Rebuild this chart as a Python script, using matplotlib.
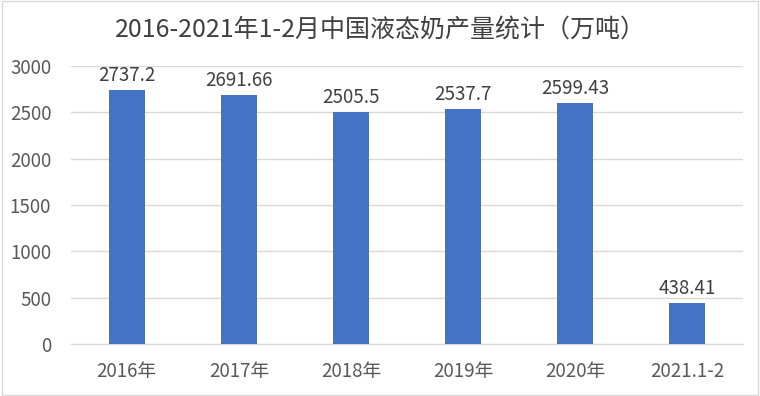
import matplotlib.pyplot as plt
from matplotlib.patches import Rectangle

plt.rcParams['font.family'] = ['Noto Sans CJK SC', 'DejaVu Sans']

# data
years = ['2016年', '2017年', '2018年', '2019年', '2020年', '2021.1-2']
output = [2737.2, 2691.66, 2505.5, 2537.7, 2599.43, 438.41]
labels = ['2737.2', '2691.66', '2505.5', '2537.7', '2599.43', '438.41']

fig = plt.figure(figsize=(7.6, 3.96), dpi=100)
ax = fig.add_axes([0.093, 0.131, 0.885, 0.702])

x = range(len(years))
ax.bar(x, output, width=0.32, color='#4472C4', zorder=3)
for i, v in enumerate(output):
    ax.text(i, v + 45, labels[i], ha='center', va='bottom', fontsize=13.5, color='#404040')

ax.set_xlim(-0.5, len(years) - 0.5)
ax.set_ylim(0, 3000)
ax.set_yticks(range(0, 3001, 500))
ax.set_xticks(list(x))
ax.set_xticklabels(years)
ax.tick_params(axis='both', length=0, labelsize=13.5, labelcolor='#595959')
ax.tick_params(axis='x', pad=12)
ax.tick_params(axis='y', pad=14)
ax.grid(axis='y', color='#D9D9D9', linewidth=1, zorder=0)
for s in ['top', 'right', 'left']:
    ax.spines[s].set_visible(False)
ax.spines['bottom'].set_color('#D9D9D9')

fig.text(0.5, 0.925, '2016-2021年1-2月中国液态奶产量统计（万吨）', ha='center', va='center',
         fontsize=18, color='#404040')

# outer border
fig.patches.append(Rectangle((0.002, 0.003), 0.996, 0.994, transform=fig.transFigure,
                             fill=False, edgecolor='#D9D9D9', linewidth=1))

fig.savefig('out.png', dpi=100)
